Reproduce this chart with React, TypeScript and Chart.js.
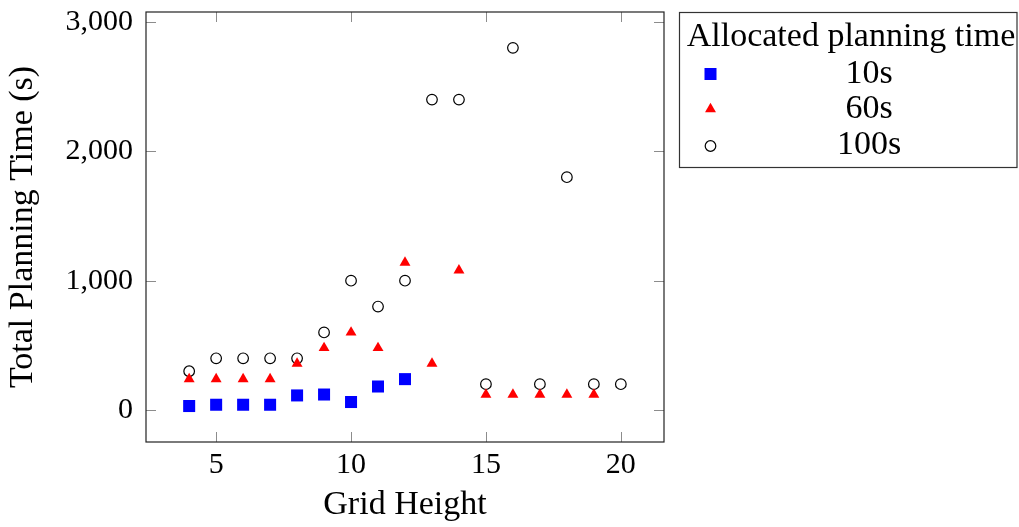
import React, { useEffect, useRef } from "react";
import { Chart, registerables } from "chart.js";

Chart.register(...registerables);

// ---- Data ----
const gridHeights10 = [4, 5, 6, 7, 8, 9, 10, 11, 12];
const times10 = [31, 41, 41, 41, 113, 120, 62, 182, 239];

const gridHeights60 = [4, 5, 6, 7, 8, 9, 10, 11, 12, 13, 14, 15, 16, 17, 18, 19];
const times60 = [240, 240, 240, 240, 360, 480, 600, 480, 1140, 360, 1080, 120, 120, 120, 120, 120];

const gridHeights100 = [4, 5, 6, 7, 8, 9, 10, 11, 12, 13, 14, 15, 16, 17, 18, 19, 20];
const times100 = [300, 400, 400, 400, 400, 600, 1000, 800, 1000, 2400, 2400, 200, 2800, 200, 1800, 200, 200];

const seriesLabels = ["10s", "60s", "100s"];
const legendTitle = "Allocated planning time";
const xTitle = "Grid Height";
const yTitle = "Total Planning Time (s)";
const xTicks = [5, 10, 15, 20];
const yTicks = [0, 1000, 2000, 3000];

const FONT_FAMILY = "'Liberation Serif', 'Times New Roman', serif";
const W = 1019;
const H = 527;

function drawMarker(ctx: CanvasRenderingContext2D, style: string, x: number, y: number) {
  ctx.save();
  if (style === "rect") {
    const r = 6;
    ctx.fillStyle = "#0000ff";
    ctx.fillRect(x - r, y - r, 2 * r, 2 * r);
  } else if (style === "triangle") {
    const r = 6.3;
    ctx.fillStyle = "#ff0000";
    ctx.beginPath();
    ctx.moveTo(x, y - r);
    ctx.lineTo(x + r * Math.cos(Math.PI / 6), y + r / 2);
    ctx.lineTo(x - r * Math.cos(Math.PI / 6), y + r / 2);
    ctx.closePath();
    ctx.fill();
  } else {
    ctx.strokeStyle = "#000";
    ctx.lineWidth = 1.2;
    ctx.beginPath();
    ctx.arc(x, y, 5.3, 0, Math.PI * 2);
    ctx.stroke();
  }
  ctx.restore();
}

const framePlugin = {
  id: "pgfFrame",
  beforeDatasetsDraw(chart: any) {
    const { ctx, chartArea, scales } = chart;
    const { left, right, top, bottom } = chartArea;
    ctx.save();
    ctx.strokeStyle = "#8c8c8c";
    ctx.lineWidth = 1;
    const len = 10;
    for (const v of xTicks) {
      const px = Math.round(scales.x.getPixelForValue(v)) + 0.5;
      ctx.beginPath();
      ctx.moveTo(px, bottom);
      ctx.lineTo(px, bottom - len);
      ctx.moveTo(px, top);
      ctx.lineTo(px, top + len);
      ctx.stroke();
    }
    for (const v of yTicks) {
      const py = Math.round(scales.y.getPixelForValue(v)) + 0.5;
      ctx.beginPath();
      ctx.moveTo(left, py);
      ctx.lineTo(left + len, py);
      ctx.moveTo(right, py);
      ctx.lineTo(right - len, py);
      ctx.stroke();
    }
    ctx.strokeStyle = "#222";
    ctx.lineWidth = 1.2;
    ctx.strokeRect(left, top, right - left, bottom - top);
    ctx.restore();
  },
};

const legendPlugin = {
  id: "pgfLegend",
  afterDraw(chart: any) {
    const { ctx } = chart;
    ctx.save();
    ctx.strokeStyle = "#333";
    ctx.lineWidth = 1.2;
    ctx.strokeRect(679.5, 12.5, 337.5, 155);
    ctx.fillStyle = "#000";
    ctx.font = `34px ${FONT_FAMILY}`;
    ctx.textAlign = "center";
    ctx.textBaseline = "alphabetic";
    ctx.fillText(legendTitle, 851, 46);
    const styles = ["rect", "triangle", "circle"];
    const markerYs = [74, 109, 146];
    const baselines = [83, 118, 154];
    for (let i = 0; i < seriesLabels.length; i++) {
      drawMarker(ctx, styles[i], 710.5, markerYs[i]);
      ctx.fillStyle = "#000";
      ctx.fillText(seriesLabels[i], 869, baselines[i]);
    }
    ctx.restore();
  },
};

export default function App() {
  const canvasRef = useRef<HTMLCanvasElement | null>(null);

  useEffect(() => {
    const canvas = canvasRef.current;
    if (!canvas) return;
    const tickFont = { family: FONT_FAMILY, size: 30 };
    const titleFont = { family: FONT_FAMILY, size: 34 };
    const chart = new Chart(canvas, {
      type: "scatter",
      data: {
        datasets: [
          {
            label: seriesLabels[0],
            data: gridHeights10.map((x, i) => ({ x, y: times10[i] })),
            pointStyle: "rect",
            pointRadius: 8.5,
            backgroundColor: "#0000ff",
            borderColor: "#0000ff",
            borderWidth: 0,
          },
          {
            label: seriesLabels[1],
            data: gridHeights60.map((x, i) => ({ x, y: times60[i] })),
            pointStyle: "triangle",
            pointRadius: 6.3,
            backgroundColor: "#ff0000",
            borderColor: "#ff0000",
            borderWidth: 0,
          },
          {
            label: seriesLabels[2],
            data: gridHeights100.map((x, i) => ({ x, y: times100[i] })),
            pointStyle: "circle",
            pointRadius: 5.3,
            backgroundColor: "rgba(0,0,0,0)",
            borderColor: "#000",
            borderWidth: 1.2,
          },
        ],
      },
      options: {
        animation: false,
        responsive: false,
        events: [],
        layout: { padding: { top: 12, right: W - 664, left: 0, bottom: 0 } },
        plugins: { legend: { display: false }, tooltip: { enabled: false } },
        scales: {
          x: {
            type: "linear",
            min: 2.4,
            max: 21.6,
            afterBuildTicks: (s: any) => {
              s.ticks = xTicks.map((v) => ({ value: v }));
            },
            afterFit: (s: any) => {
              s.height = 85;
              s.paddingLeft = 0;
              s.paddingRight = 0;
            },
            grid: { display: false, drawTicks: false },
            border: { display: false },
            ticks: { font: tickFont, color: "#000", padding: 5, callback: (v: any) => String(v) },
            title: { display: true, text: xTitle, font: titleFont, color: "#000", padding: { top: 0, bottom: 2 } },
          },
          y: {
            type: "linear",
            min: -247,
            max: 3077,
            afterBuildTicks: (s: any) => {
              s.ticks = yTicks.map((v) => ({ value: v }));
            },
            afterFit: (s: any) => {
              s.width = 146;
              s.paddingTop = 0;
              s.paddingBottom = 0;
            },
            grid: { display: false, drawTicks: false },
            border: { display: false },
            ticks: {
              font: tickFont,
              color: "#000",
              padding: 13,
              callback: (v: any) => Number(v).toLocaleString("en-US"),
            },
            title: { display: true, text: yTitle, font: titleFont, color: "#000", padding: { top: 3, bottom: 0 } },
          },
        },
      },
      plugins: [framePlugin, legendPlugin],
    });
    return () => chart.destroy();
  }, []);

  return (
    <div style={{ position: "absolute", left: 0, top: 0, width: W, height: H, background: "#fff" }}>
      <canvas ref={canvasRef} width={W} height={H} style={{ width: W, height: H, display: "block" }} />
    </div>
  );
}
